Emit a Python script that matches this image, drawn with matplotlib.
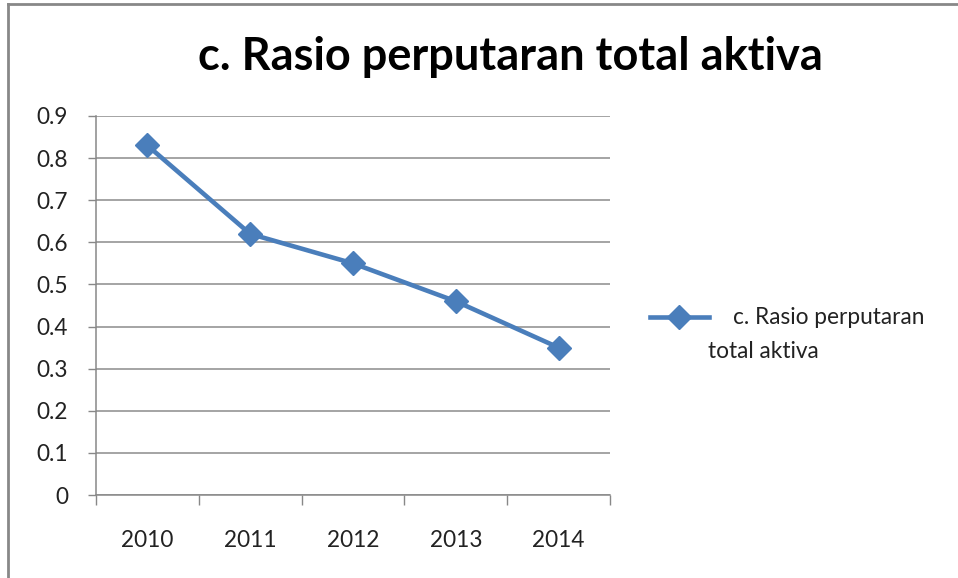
import matplotlib
matplotlib.use("Agg")
import matplotlib.pyplot as plt
from matplotlib.lines import Line2D

years = ["2010", "2011", "2012", "2013", "2014"]
values = [0.83, 0.62, 0.55, 0.46, 0.35]
yticks = [0, 0.1, 0.2, 0.3, 0.4, 0.5, 0.6, 0.7, 0.8, 0.9]
ytick_labels = ["0", "0.1", "0.2", "0.3", "0.4", "0.5", "0.6", "0.7", "0.8", "0.9"]
title = "c. Rasio perputaran total aktiva"
legend_line1 = "c. Rasio perputaran"
legend_line2 = "total aktiva"

plt.rcParams['font.family'] = ['Lato', 'DejaVu Sans']

W, H = 958, 578
fig = plt.figure(figsize=(W/100, H/100), dpi=100)
# outer frame (top and left edges only visible)
fig.add_artist(Line2D([8/W, 1.0], [1-4/H, 1-4/H], transform=fig.transFigure,
                      color='#888888', linewidth=2))
fig.add_artist(Line2D([8/W, 8/W], [0, 1-4/H], transform=fig.transFigure,
                      color='#888888', linewidth=2))

ax = fig.add_axes([96/W, 1-495/H, (610-96)/W, (495-116)/H])
color = '#4A7EBB'
x = list(range(len(years)))
line, = ax.plot(x, values, color=color, linewidth=3.3, marker='D', markersize=12,
                markeredgecolor=color, markerfacecolor=color, solid_joinstyle='round')

ax.set_xlim(-0.5, len(years) - 0.5)
ax.set_ylim(0, 0.9)
ax.set_yticks(yticks)
ax.set_yticklabels(ytick_labels)
ax.set_xticks(x)
ax.set_xticklabels(years)
ax.set_xticks([i - 0.5 for i in range(len(years) + 1)], minor=True)
ax.tick_params(axis='x', which='major', length=0, pad=25, labelsize=16.3, labelcolor='#222222')
ax.tick_params(axis='x', which='minor', length=7, width=1, color='#888888', direction='out')
ax.tick_params(axis='y', which='major', length=6, width=1, color='#888888', direction='out',
               pad=14, labelsize=16.3, labelcolor='#222222')
ax.grid(axis='y', color='#8c8c8c', linewidth=1.1)
ax.set_axisbelow(True)
for s in ['top', 'right']:
    ax.spines[s].set_visible(False)
for s in ['left', 'bottom']:
    ax.spines[s].set_color('#888888')
    ax.spines[s].set_linewidth(1.1)

fig.text(510/W, 1-57/H, title, ha='center', va='center', fontsize=32.5, fontweight='bold',
         color='black')

# legend: handle + first line via legend, second line as continuation text
leg = ax.legend([line], ["    " + legend_line1], loc='center left',
                bbox_to_anchor=(650/W, 1-318/H), bbox_transform=fig.transFigure,
                frameon=False, fontsize=16.3, handlelength=2.6, handletextpad=0.05,
                borderpad=0, borderaxespad=0, labelcolor='#222222')
fig.text(708/W, 1-352/H, legend_line2, ha='left', va='center', fontsize=16.3,
         color='#222222')

fig.savefig("out.png", dpi=100)
